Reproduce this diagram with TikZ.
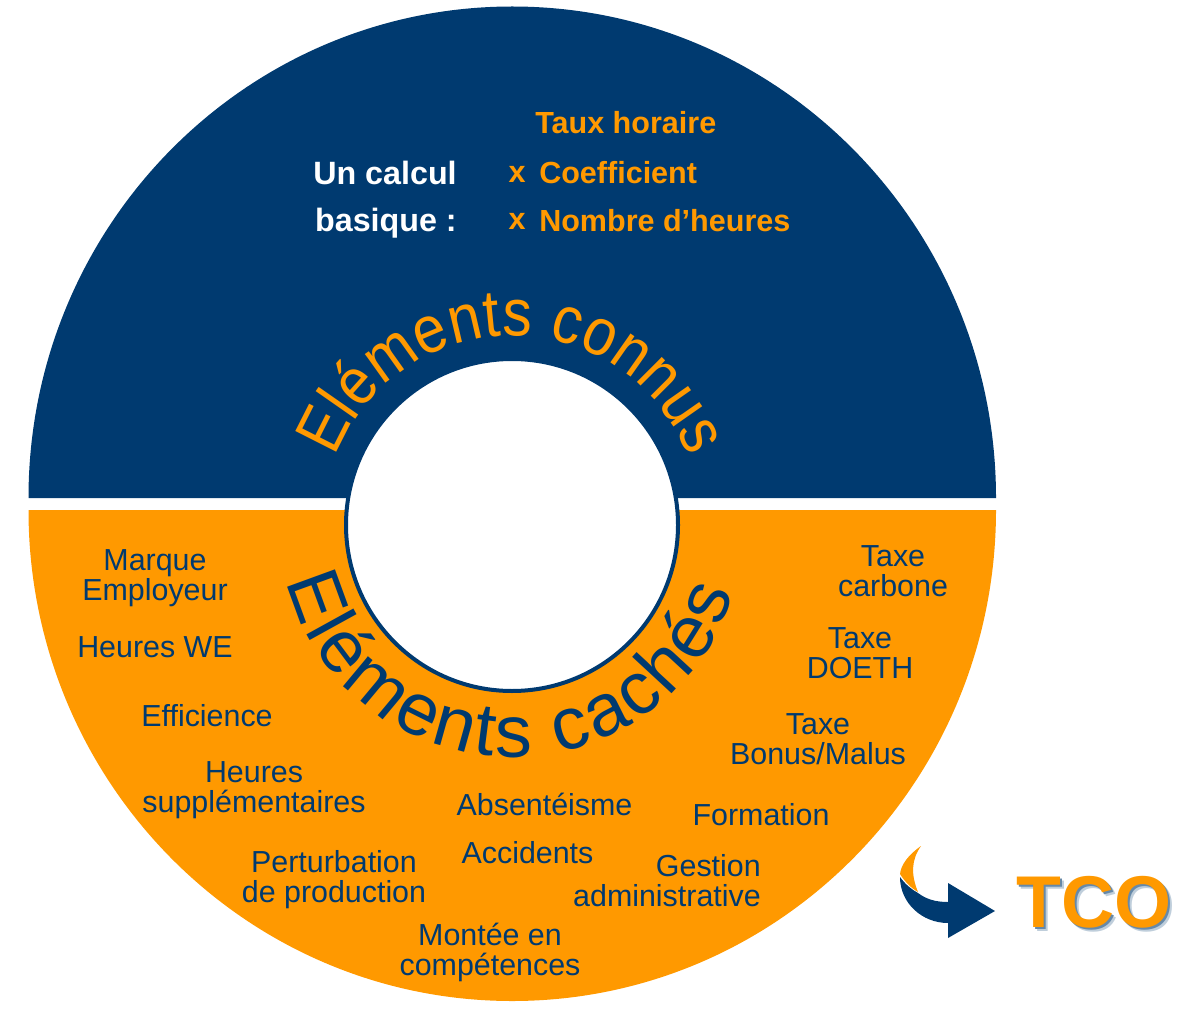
\documentclass[tikz,border=0pt]{standalone}
\usepackage{fontspec}
\setmainfont[Ligatures=NoCommon]{Liberation Sans}
\newfontfamily\arcfontA[FakeStretch=0.88,Ligatures=NoCommon]{Liberation Sans}
\usetikzlibrary{decorations.text}
\definecolor{navy}{HTML}{003A70}
\definecolor{amber}{HTML}{FF9900}
\tikzset{
  item/.style={font=\fontsize{22.8}{22.5}\selectfont,text=navy,align=center,inner sep=0pt,anchor=base},
  calc/.style={font=\bfseries\fontsize{22.9}{23}\selectfont,text=amber,inner sep=0pt,anchor=base west},
  intro/.style={font=\bfseries\fontsize{24.2}{24.2}\selectfont,text=white,inner sep=0pt,anchor=base east},
  tco/.style={font=\bfseries\fontsize{55}{55}\selectfont,inner sep=0pt,anchor=base west}
}
\begin{document}
\begin{tikzpicture}[x=0.75pt,y=-0.75pt]
\useasboundingbox (0,0) rectangle (1188,1009);
% halves
\fill[navy] (28.5,498) arc[start angle=180,end angle=360,x radius=483.75,y radius=491.5] -- cycle;
\fill[amber] (28.5,510) arc[start angle=180,end angle=0,x radius=483.75,y radius=491] -- cycle;
% centre
\node[circle,draw=navy,line width=3pt,fill=white,minimum size=332*0.75pt,inner sep=0pt] (hub) at (512,525) {};
% arc titles
\path[decorate,decoration={text along path,text align=fit to path,
  text={|\arcfontA\fontsize{50}{50}\selectfont\color{amber}|Eléments connus}}]
  (hub.center) ++(201:189) arc[start angle=201,end angle=339,radius=189];
\path[decorate,decoration={text along path,text align=fit to path,
  text={|\fontsize{55.5}{55.5}\selectfont\color{navy}|Eléments cachés}}]
  (hub.center) ++(166:232) arc[start angle=166,end angle=17,radius=232];
% top text
\node[intro] (un) at (457,185) {Un calcul};
\node[intro] (ba) at (457,232) {basique :};
\node[calc] (taux) at (535,134) {Taux horaire};
\node[calc,anchor=base] (x1) at (517,183) {x};
\node[calc] (coef) at (539,184) {Coefficient};
\node[calc,anchor=base] (x2) at (517,230) {x};
\node[calc] (nb) at (539,232) {Nombre d’heures};
% items
\node[item] (marque) at (155,600) {Marque\\Employeur};
\node[item] (we) at (155,657) {Heures WE};
\node[item] (eff) at (207,726) {Efficience};
\node[item] (sup) at (254,812) {Heures\\supplémentaires};
\node[item] (pert) at (334,902) {Perturbation\\de production};
\node[item] (mont) at (490,975) {Montée en\\compétences};
\node[item] (abs) at (544.5,815) {Absentéisme};
\node[item] (acc) at (527.5,863) {Accidents};
\node[item,align=right,anchor=base east] (gest) at (761,906) {Gestion\\administrative};
\node[item] (form) at (761,825) {Formation};
\node[item] (bm) at (818,764) {Taxe\\Bonus/Malus};
\node[item] (doeth) at (860,678) {Taxe\\DOETH};
\node[item] (carb) at (893,596) {Taxe\\carbone};
% arrow
\fill[amber] (921,846) .. controls (908,855) and (901,865) .. (900,874)
  .. controls (905,882) and (911,888) .. (918,892)
  .. controls (911,875) and (911,860) .. (921,846) -- cycle;
\fill[navy] (900,877) .. controls (900,903) and (922,923) .. (948,923)
  -- (948,938) -- (995,911) -- (948,883) -- (948,902)
  .. controls (935,902) and (926,899) .. (918,893) .. controls (911,889) and (905,884) .. (900,877) -- cycle;
% TCO
\foreach \d/\c in {4/25,2.5/60}{
  \node[tco,text=navy!\c!white] at (1016+\d,927+\d) {TCO};
}
\node[tco,text=amber] (tco) at (1016,927) {TCO};
\end{tikzpicture}
\end{document}
